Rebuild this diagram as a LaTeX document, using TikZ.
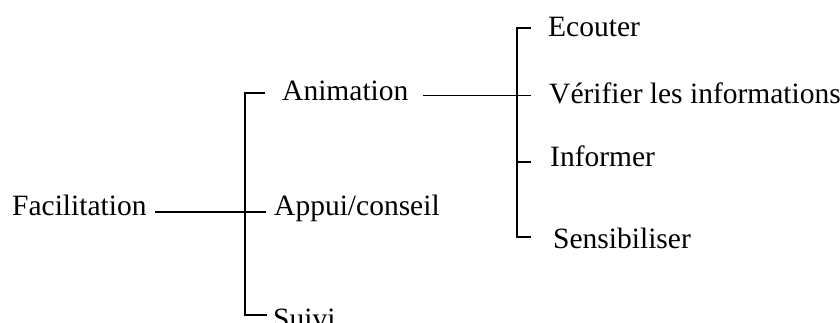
\documentclass[tikz,border=0pt]{standalone}
\usepackage{fontspec}
\setmainfont{Liberation Serif}
\begin{document}
\begin{tikzpicture}[x=1pt,y=-1pt,
  conn/.style={line width=1.8pt, line cap=butt},
  lbl/.style={anchor=base west, inner sep=0pt, font=\fontsize{29.5}{34}\selectfont}]
\useasboundingbox (0,0) rectangle (840,322);
% labels
\node[lbl] (fac)   at (12,215)  {Facilitation};
\node[lbl] (anim)  at (282,100.5) {Animation};
\node[lbl] (appui) at (274,215)  {Appui/conseil};
\node[lbl] (suivi) at (273,328)  {Suivi};
\node[lbl] (ecou)  at (548,36)   {Ecouter};
\node[lbl] (verif) at (549,103)  {Vérifier les informations};
\node[lbl] (info)  at (550,166)  {Informer};
\node[lbl] (sens)  at (553,248)  {Sensibiliser};
% connector points
\coordinate (facE)  at (155,212);
\coordinate (appW)  at (266,212);
\coordinate (animW) at (265,93);
\coordinate (b1t)   at (245,93);
\coordinate (b1b)   at (245,315);
\coordinate (suiW)  at (267,315);
\coordinate (animE) at (423,95.5);
\coordinate (verW)  at (531,95.5);
\coordinate (ecoW)  at (531,28);
\coordinate (b2t)   at (517,28);
\coordinate (b2b)   at (517,237);
\coordinate (senW)  at (531,237);
\coordinate (b2m)   at (517,162);
\coordinate (infW)  at (531,162);
% connectors
\draw[conn] (facE) -- (appW);
\draw[conn] (animW) -- (b1t) -- (b1b) -- (suiW);
\draw[conn] (animE) -- (verW);
\draw[conn] (ecoW) -- (b2t) -- (b2b) -- (senW);
\draw[conn] (b2m) -- (infW);
\end{tikzpicture}
\end{document}
